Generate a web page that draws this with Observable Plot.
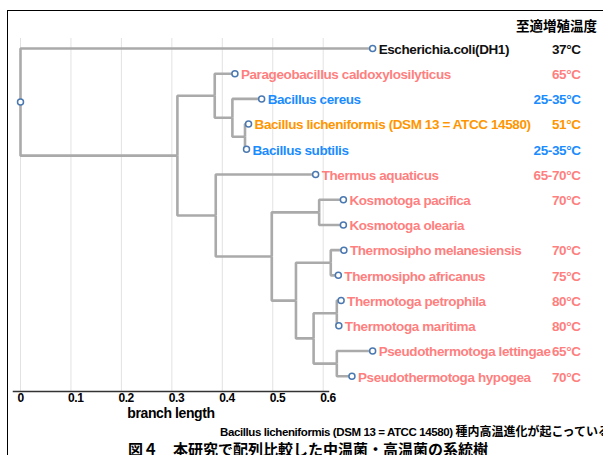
<!DOCTYPE html>
<html>
<head>
<meta charset="utf-8">
<script src="https://cdn.jsdelivr.net/npm/d3@7"></script>
<script src="https://cdn.jsdelivr.net/npm/@observablehq/plot@0.6"></script>
<style>
html, body { margin: 0; padding: 0; background: #fff; }
body { width: 603px; height: 455px; overflow: hidden; position: relative;
  font-family: "Liberation Sans", Arial, "Noto Sans CJK JP", sans-serif; }
#border { position: absolute; left: 7px; top: 10px; width: 700px; height: 500px;
  border-left: 1.5px solid #000; border-top: 1.5px solid #000; z-index: 5; pointer-events: none; }
#header { position: absolute; right: 6px; top: 16px; font-weight: bold; font-size: 13.5px; line-height: 18px;
  font-family: "Noto Sans CJK JP", sans-serif; color: #000; white-space: nowrap; }
#chart { position: absolute; left: 0; top: 36px; }
#chart svg text { letter-spacing: -0.4px; }
#cap1 { position: absolute; left: 220px; top: 424px; white-space: nowrap; font-weight: bold; font-size: 11.5px; line-height: 14px; color: #000;
  letter-spacing: -0.4px; font-family: "Liberation Sans", Arial, "Noto Sans CJK JP", sans-serif; }
#cap1 .ja { font-family: "Noto Sans CJK JP", sans-serif; font-size: 12px; letter-spacing: 0; }
#cap2 { position: absolute; left: 128px; top: 440px; white-space: nowrap; font-weight: bold; font-size: 15px; line-height: 17px; color: #000;
  font-family: "Noto Sans CJK JP", sans-serif; }
</style>
</head>
<body>
<div id="header">至適増殖温度</div>
<div id="chart"></div>
<div id="cap1">Bacillus licheniformis (DSM 13 = ATCC 14580) <span class="ja">種内高温進化が起こっている</span></div>
<div id="cap2">図４　本研究で配列比較した中温菌・高温菌の系統樹</div>
<div id="border"></div>
<script>
// ---- tree data ----
const nodeIds = ["root","ecoli","n1","bac","parageo","bac2","cereus","bac3","lich","subtilis",
  "thermo","thermus","n2","kosmo","kpac","kole","n3","tsipho","tmel","tafr",
  "n4","ttoga","tpet","tmar","pseudo","plet","phyp"];
const parentIds = [null,"root","root","n1","bac","bac","bac2","bac2","bac3","bac3",
  "n1","thermo","thermo","n2","kosmo","kosmo","n2","n3","tsipho","tsipho",
  "n3","n4","ttoga","ttoga","n4","pseudo","pseudo"];
const branchLengths = [0,0.698,0.311,0.074,0.040,0.035,0.058,0.025,0.007,0.003,
  0.076,0.198,0.111,0.094,0.048,0.048,0.048,0.069,0.026,0.015,
  0.035,0.046,0.0085,0.004,0.046,0.071,0.030];

// ---- leaf annotations (tree order) ----
const leafLabels = ["Escherichia.coli(DH1)","Parageobacillus caldoxylosilyticus","Bacillus cereus",
  "Bacillus licheniformis (DSM 13 = ATCC 14580)","Bacillus subtilis","Thermus aquaticus",
  "Kosmotoga pacifica","Kosmotoga olearia","Thermosipho melanesiensis","Thermosipho africanus",
  "Thermotoga petrophila","Thermotoga maritima","Pseudothermotoga lettingae","Pseudothermotoga hypogea"];
const optimumTemps = ["37°C","65°C","25-35°C","51°C","25-35°C","65-70°C",
  "70°C","","70°C","75°C","80°C","80°C","65°C","70°C"];
const leafGroups = ["reference","thermophile","mesophile","target","mesophile","thermophile",
  "thermophile","thermophile","thermophile","thermophile","thermophile","thermophile","thermophile","thermophile"];
const groupNames = ["reference","mesophile","target","thermophile"];
const groupColors = ["#111111","#1a8cff","#ff9600","#ff7f7f"];

const xTicks = [0, 0.1, 0.2, 0.3, 0.4, 0.5, 0.6];
const xLabel = "branch length";

// ---- build hierarchy ----
const table = nodeIds.map((id, i) => ({id, parent: parentIds[i], len: branchLengths[i]}));
const root = d3.stratify().id(d => d.id).parentId(d => d.parent)(table);
root.eachBefore(n => { n.dist = (n.parent ? n.parent.dist : 0) + n.data.len; });
let k = 0;
root.eachBefore(n => { if (!n.children) n.row = k++; });
root.eachAfter(n => { if (n.children) n.row = (n.children[0].row + n.children[n.children.length - 1].row) / 2; });

const links = root.links().map(l => ({x1: l.source.dist, y1: l.source.row, x2: l.target.dist, y2: l.target.row}));
const leaves = root.leaves().map((n, i) => ({x: n.dist, row: n.row, label: leafLabels[i], temp: optimumTemps[i], group: leafGroups[i]}));
const circles = [root, ...root.leaves()].map(n => ({x: n.dist, row: n.row}));

const font = '"Liberation Sans", Arial, sans-serif';

const chart = Plot.plot({
  width: 603, height: 384,
  marginLeft: 13, marginRight: 275, marginTop: 2, marginBottom: 29,
  insetLeft: 7, insetRight: 5.3, insetTop: 10, insetBottom: 15.3,
  x: {domain: [0, 0.6]},
  y: {domain: [0, 13], reverse: true, axis: null},
  color: {domain: groupNames, range: groupColors},
  style: {fontFamily: font, background: "transparent", overflow: "visible"},
  marks: [
    Plot.gridX(xTicks, {stroke: "#e2e2e2", strokeOpacity: 1, strokeWidth: 1}),
    Plot.frame({anchor: "bottom", stroke: "#333", strokeWidth: 1.5}),
    Plot.axisX(xTicks, {tickSize: 0, tickPadding: 2, textAnchor: "start", dx: -3,
      fontSize: 12, fontWeight: "bold", fill: "#000", tickFormat: d => String(d),
      label: null}),
    Plot.text([xLabel], {frameAnchor: "bottom", dy: 22, text: d => d, fontSize: 14, fontWeight: "bold", fill: "#000", lineAnchor: "middle"}),
    Plot.link(links, {x1: "x1", y1: "y1", x2: "x2", y2: "y2", curve: "step-before",
      stroke: "#aaaaaa", strokeWidth: 2.6}),
    Plot.dot(circles, {x: "x", y: "row", r: 3, fill: "white", stroke: "#4a78b0", strokeWidth: 1.5}),
    Plot.text(leaves, {x: "x", y: "row", text: "label", fill: "group", textAnchor: "start",
      dx: 6, dy: 1, fontSize: 13.5, fontWeight: "bold"}),
    Plot.text(leaves, {y: "row", text: "temp", fill: "group", frameAnchor: "right", textAnchor: "end",
      dx: 252, dy: 1, fontSize: 13.5, fontWeight: "bold"})
  ]
});
document.getElementById("chart").appendChild(chart);
</script>
</body>
</html>
